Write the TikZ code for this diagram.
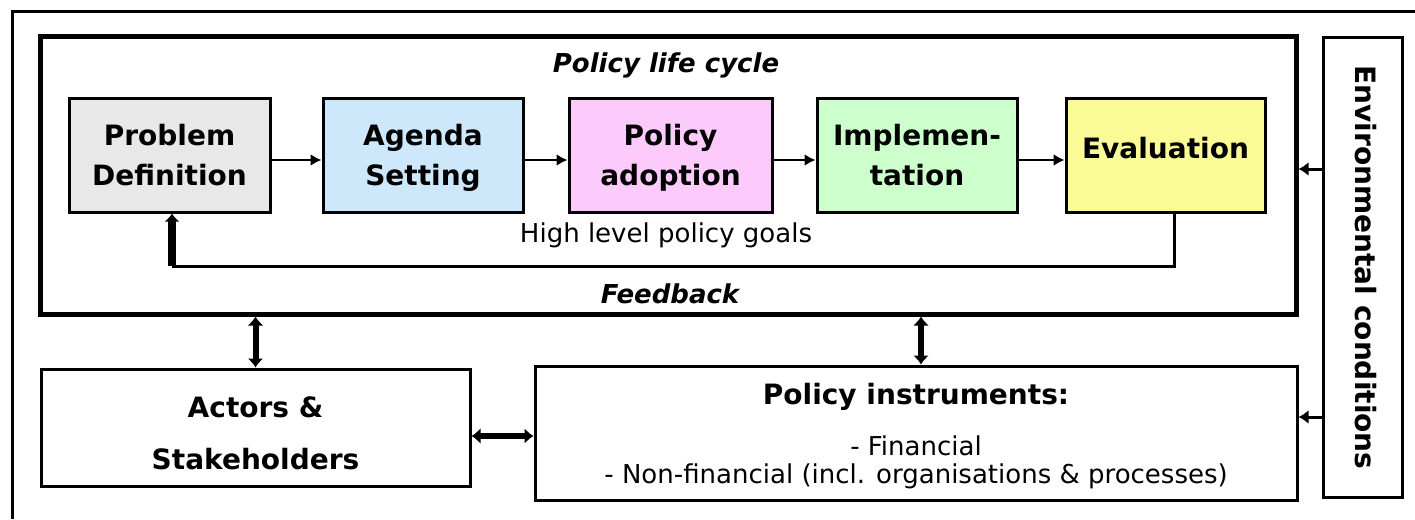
\documentclass[tikz,border=0pt]{standalone}
\usepackage{fontspec}
\setmainfont{DejaVu Sans}
\usepackage{graphicx}
\usetikzlibrary{arrows.meta}
\definecolor{pdgray}{HTML}{E8E8E8}
\definecolor{agblue}{HTML}{CCE8FA}
\definecolor{papink}{HTML}{FCCBFC}
\definecolor{imgreen}{HTML}{CCFFCC}
\definecolor{evyellow}{HTML}{FAFA96}
\begin{document}
\begin{tikzpicture}[x=1pt,y=-1pt,
  stagebox/.style={draw, line width=3pt, minimum height=114pt, align=center, inner sep=0pt, text depth=0pt, font=\bfseries\fontsize{28}{40}\selectfont},
  plainbox/.style={draw, line width=3pt, align=center, inner sep=0pt, fill=white},
  framebox/.style={draw, line width=5pt, inner sep=0pt},
  titletext/.style={anchor=base, inner sep=0pt, font=\bfseries\itshape\fontsize{26}{30}\selectfont},
  goaltext/.style={anchor=base, inner sep=0pt, font=\fontsize{26}{30}\selectfont},
  steparrow/.style={line width=2.5pt, -{Latex[length=11pt,width=12pt]}},
  envarrow/.style={line width=3pt, -{Latex[length=10pt,width=14pt]}},
  dblarrow/.style={line width=6pt, {Latex[length=9pt,width=16pt]}-{Latex[length=9pt,width=16pt]}},
  fbarrow/.style={line width=8pt, -{Latex[length=8pt,width=15pt]}},
  fbline/.style={line width=3pt}
]
\useasboundingbox (0,0) rectangle (1415,519);
\fill[white] (0,0) rectangle (1415,519);
% outer frame (cut by the picture edge)
\draw[line width=3pt] (1415,12) -- (12,12) -- (12,519);

% policy life cycle frame
\node[framebox, minimum width=1256pt, minimum height=277pt] (lc) at (668,175.5) {};
\node[titletext] (lctitle) at (666,72) {Policy life cycle};

% stages
\node[stagebox, fill=pdgray, minimum width=201pt] (pd) at (169.5,155) {Problem\\Definition};
\node[stagebox, fill=agblue, minimum width=200pt] (ag) at (423,155) {Agenda\\Setting};
\node[stagebox, fill=papink, minimum width=203pt] (pa) at (670.5,155) {Policy\\adoption};
\node[stagebox, fill=imgreen, minimum width=200pt] (im) at (917,155) {Implemen-\\tation};
\node[stagebox, fill=evyellow, minimum width=199pt, text depth=15pt] (ev) at (1165.5,155) {Evaluation};

\draw[steparrow] (pd.east |- 0,160) -- (ag.west |- 0,160);
\draw[steparrow] (ag.east |- 0,160) -- (pa.west |- 0,160);
\draw[steparrow] (pa.east |- 0,160) -- (im.west |- 0,160);
\draw[steparrow] (im.east |- 0,160) -- (ev.west |- 0,160);

\node[goaltext] (goals) at (666,242) {High level policy goals};

% feedback loop
\coordinate (fbc) at (172,266);
\draw[fbline] (ev.south -| 1174,0) |- (fbc);
\draw[fbarrow] (fbc) -- (pd.south -| fbc);
\node[titletext] (fbtext) at (670,303) {Feedback};

% lower boxes
\node[plainbox, minimum width=429pt, minimum height=117pt, font=\bfseries\fontsize{28}{52}\selectfont, text depth=0pt] (ac) at (255.5,427.5) {\rule{0pt}{31pt}Actors \&\\Stakeholders};
\node[plainbox, minimum width=762pt, minimum height=134pt, font=\fontsize{26}{28}\selectfont, text depth=0pt] (pi) at (916,433) {{\bfseries\fontsize{28}{28}\selectfont Policy instruments:}\\[23pt] - Financial\\ - Non-financial (incl. organisations \& processes)};
\node[plainbox, minimum width=79pt, minimum height=459pt, font=\bfseries\fontsize{28}{34}\selectfont] (env) at (1362.5,267.5) {\hspace*{6pt}\rotatebox{-90}{Environmental conditions}};

% connectors
\draw[dblarrow] (lc.south -| ac.north) -- (ac.north);
\draw[dblarrow] (lc.south -| 921,0) -- (pi.north -| 921,0);
\draw[dblarrow] (ac.east |- 0,436) -- (pi.west |- 0,436);
\draw[envarrow] (env.west |- 0,169) -- (lc.east |- 0,169);
\draw[envarrow] (env.west |- 0,417) -- (pi.east |- 0,417);
\end{tikzpicture}
\end{document}
